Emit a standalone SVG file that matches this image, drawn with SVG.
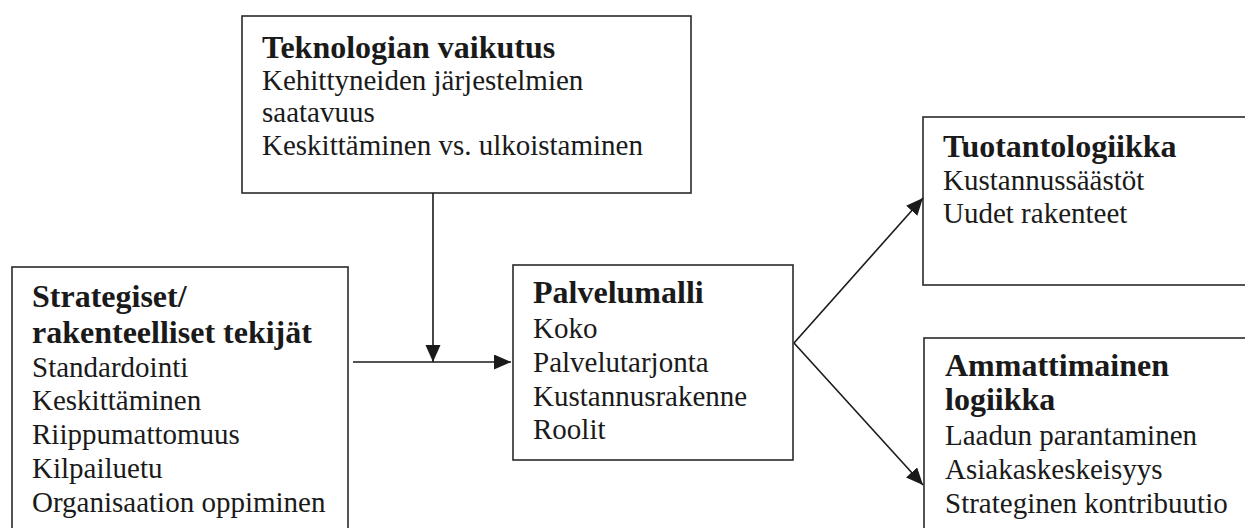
<svg xmlns="http://www.w3.org/2000/svg" width="1245" height="528" viewBox="0 0 1245 528">
<style>
.box{fill:#fff;stroke:#2a2a2a;stroke-width:1.6}
.t{font-family:"Liberation Serif","Times New Roman",serif;font-size:29px;fill:#1a1a1a}
.h{font-family:"Liberation Serif","Times New Roman",serif;font-size:32px;font-weight:bold;fill:#1a1a1a}
.c{fill:none;stroke:#1a1a1a;stroke-width:1.6}
</style>
<defs>
<marker id="ah" markerUnits="userSpaceOnUse" markerWidth="18" markerHeight="16" refX="17" refY="7.5" orient="auto">
<path d="M0,0 L17,7.5 L0,15 z" fill="#1a1a1a"/>
</marker>
</defs>
<rect width="1245" height="528" fill="#fff"/>
<g id="teknologia">
<rect class="box" x="242" y="16" width="449" height="177"/>
<text class="h" x="262" y="58">Teknologian vaikutus</text>
<text class="t" x="262" y="90">Kehittyneiden järjestelmien</text>
<text class="t" x="262" y="122">saatavuus</text>
<text class="t" x="262" y="155">Keskittäminen vs. ulkoistaminen</text>
</g>
<g id="strategiset">
<rect class="box" x="12" y="267" width="336" height="280"/>
<text class="h" x="32" y="307">Strategiset/</text>
<text class="h" x="32" y="343">rakenteelliset tekijät</text>
<text class="t" x="32" y="377">Standardointi</text>
<text class="t" x="32" y="410">Keskittäminen</text>
<text class="t" x="32" y="444">Riippumattomuus</text>
<text class="t" x="32" y="478">Kilpailuetu</text>
<text class="t" x="32" y="512">Organisaation oppiminen</text>
</g>
<g id="palvelumalli">
<rect class="box" x="513" y="265" width="280" height="195"/>
<text class="h" x="533" y="303">Palvelumalli</text>
<text class="t" x="533" y="338">Koko</text>
<text class="t" x="533" y="372">Palvelutarjonta</text>
<text class="t" x="533" y="406">Kustannusrakenne</text>
<text class="t" x="533" y="439">Roolit</text>
</g>
<g id="tuotantologiikka">
<rect class="box" x="923" y="117" width="340" height="168"/>
<text class="h" x="943" y="157">Tuotantologiikka</text>
<text class="t" x="943" y="190">Kustannussäästöt</text>
<text class="t" x="943" y="223">Uudet rakenteet</text>
</g>
<g id="ammattimainen">
<rect class="box" x="924" y="338" width="340" height="210"/>
<text class="h" x="945" y="376">Ammattimainen</text>
<text class="h" x="945" y="410">logiikka</text>
<text class="t" x="945" y="445">Laadun parantaminen</text>
<text class="t" x="945" y="479">Asiakaskeskeisyys</text>
<text class="t" x="945" y="513">Strateginen kontribuutio</text>
</g>
<g id="connectors">
<line class="c" x1="353" y1="362" x2="511" y2="362" marker-end="url(#ah)"/>
<line class="c" x1="433" y1="193" x2="433" y2="362" marker-end="url(#ah)"/>
<line class="c" x1="794" y1="343" x2="923" y2="198" marker-end="url(#ah)"/>
<line class="c" x1="794" y1="343" x2="923" y2="485" marker-end="url(#ah)"/>
</g>
</svg>
